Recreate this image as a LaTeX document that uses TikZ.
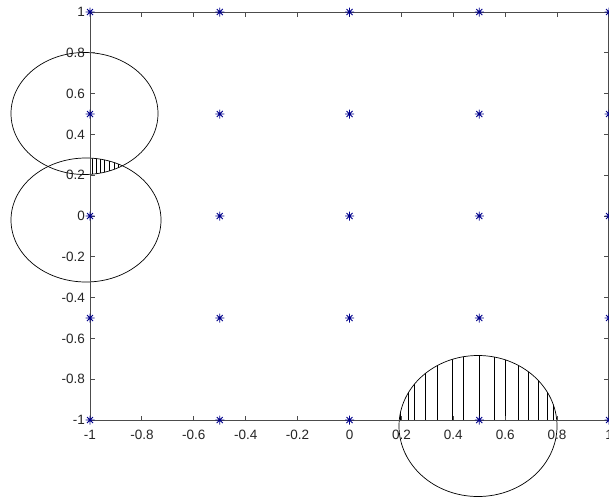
\documentclass[tikz,border=0pt]{standalone}
\usepackage{fontspec}
\setmainfont{Liberation Sans}
\begin{document}
\begin{tikzpicture}[x=1pt,y=-1pt,
  lbl/.style={font=\fontsize{13.5}{14}\selectfont, inner sep=0pt, text=black!85},
  axisline/.style={draw=black!70, line width=0.9pt},
  curve/.style={draw=black, line width=0.7pt},
  hatch/.style={draw=black, line width=0.7pt},
  starmark/.style={draw=blue!55!black, line width=0.9pt}]
\useasboundingbox (0,0) rectangle (609,501);
\fill[white] (0,0) rectangle (609,501);

% hatching of the lower circle, inside the square
\begin{scope}
  \clip (90,12) rectangle (609,420.5);
  \clip (478,426) ellipse [x radius=79, y radius=70.5];
  \foreach \hx in {400.7,408.3,414.3,425,437.3,452.7,463.3,479,494.3,505.3,518.7,528.7,538.7,547.7,553.3}
    \draw[hatch] (\hx,340) -- (\hx,421);
\end{scope}

% hatching of the lens between the two left circles
\begin{scope}
  \clip (90,0) rectangle (200,300);
  \clip (84.5,113.5) ellipse [x radius=73.5, y radius=61];
  \clip (86,220) ellipse [x radius=75, y radius=62];
  \foreach \hx in {92.5,96.5,100.5,104.5,109,114,118.5}
    \draw[hatch] (\hx,140) -- (\hx,190);
\end{scope}

% circles
\draw[curve] (84.5,113.5) ellipse [x radius=73.5, y radius=61];
\draw[curve] (86,220) ellipse [x radius=75, y radius=62];
\draw[curve] (478,426) ellipse [x radius=79, y radius=70.5];

% axes box
\draw[axisline] (90,12) rectangle (608.5,420.5);

% ticks
\foreach \v in {-0.8,-0.6,-0.4,-0.2,0,0.2,0.4,0.6,0.8} {
  \pgfmathsetmacro\px{90+(\v+1)*259.5}
  \pgfmathsetmacro\py{216-\v*204}
  \draw[axisline] (\px,420.5) -- (\px,415.5);
  \draw[axisline] (\px,12) -- (\px,17);
  \draw[axisline] (90,\py) -- (95,\py);
  \draw[axisline] (608.5,\py) -- (603.5,\py);
}

% x tick labels
\foreach \v/\t [count=\i] in {-1/-1,-0.8/-0.8,-0.6/-0.6,-0.4/-0.4,-0.2/-0.2,0/0,0.2/0.2,0.4/0.4,0.6/0.6,0.8/0.8,1/1} {
  \pgfmathsetmacro\px{90+(\v+1)*259.5}
  \node[lbl] (xl\i) at (\px,434.5) {\t};
}
% y tick labels
\foreach \v/\t [count=\i] in {1/1,0.8/0.8,0.6/0.6,0.4/0.4,0.2/0.2,0/0,-0.2/-0.2,-0.4/-0.4,-0.6/-0.6,-0.8/-0.8,-1/-1} {
  \pgfmathsetmacro\py{216-\v*204}
  \node[lbl, anchor=east] (yl\i) at (85,\py) {\t};
}

% star markers
\foreach \a in {-1,-0.5,0,0.5,1} {
  \foreach \b in {-1,-0.5,0,0.5,1} {
    \pgfmathsetmacro\px{90+(\a+1)*259.5}
    \pgfmathsetmacro\py{216-\b*204}
    \draw[starmark] (\px-4.5,\py) -- (\px+4.5,\py)
                    (\px,\py-4.5) -- (\px,\py+4.5)
                    (\px-3,\py-3) -- (\px+3,\py+3)
                    (\px-3,\py+3) -- (\px+3,\py-3);
  }
}
\end{tikzpicture}
\end{document}
